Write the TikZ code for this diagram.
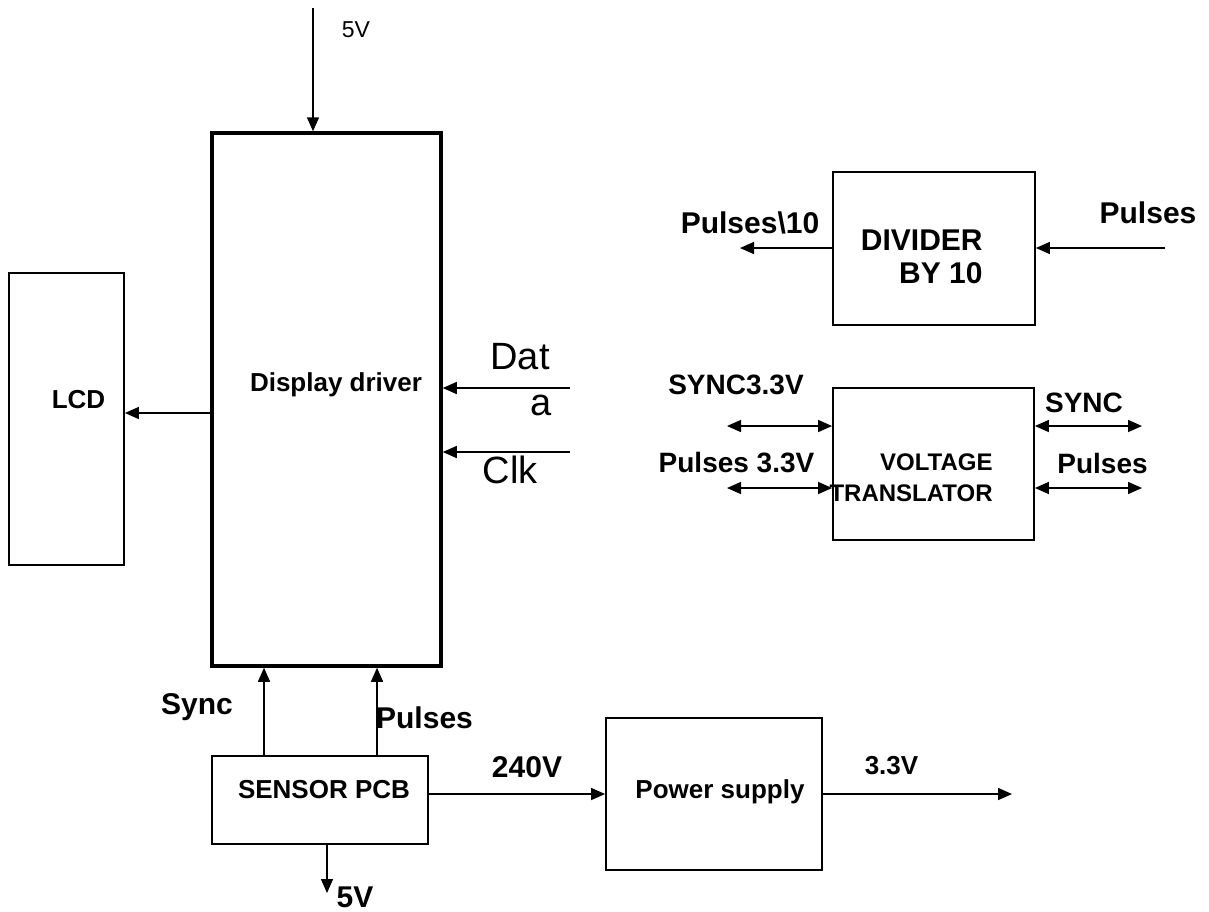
\documentclass[tikz,border=0pt]{standalone}
\usepackage{fontspec}
\setmainfont{Liberation Sans}
\usetikzlibrary{arrows.meta,positioning}

\begin{document}
\begin{tikzpicture}[x=0.5pt, y=-0.5pt,
    box/.style={draw, line width=0.9pt, inner sep=0pt},
    arr/.style={line width=0.75pt, -{Triangle[length=7pt,width=6pt]}},
    biarr/.style={line width=0.75pt, {Triangle[length=7pt,width=6pt]}-{Triangle[length=7pt,width=6pt]}},
    lbl/.style={font=\bfseries\fontsize{15}{16.5}\selectfont, inner sep=0pt},
    mid/.style={font=\bfseries\fontsize{14}{16}\selectfont, inner sep=0pt},
    small/.style={font=\bfseries\fontsize{13}{15}\selectfont, inner sep=0pt},
    big/.style={font=\fontsize{19}{22}\selectfont, inner sep=0pt}]

    \useasboundingbox (0,0) rectangle (1209,911);

    % blocks
    \node[box, minimum width=57.5pt, minimum height=146pt] (lcd) at (66.5,419) {};
    \node[box, line width=1.75pt, minimum width=114.5pt, minimum height=266.5pt] (drv) at (326.5,399.5) {};
    \node[box, minimum width=101pt, minimum height=76.5pt] (div) at (934,248.5) {};
    \node[box, minimum width=100.5pt, minimum height=76pt] (vt) at (933.5,464) {};
    \node[box, minimum width=108pt, minimum height=44pt] (sens) at (320,800) {};
    \node[box, minimum width=108pt, minimum height=76pt] (psu) at (714,794) {};

    % block texts
    \node[small] (lcdlbl) at (78.5,400) {LCD};
    \node[small] (drvlbl) at (336,385) {Display driver};
    \node[lbl, align=right, anchor=east] (divlbl) at (983,256.5) {DIVIDER\\BY 10};
    \node[font=\bfseries\fontsize{12}{15.5}\selectfont, inner sep=0pt, align=right, anchor=east] (vtlbl) at (993,477.5) {VOLTAGE\\TRANSLATOR};
    \node[small] (senslbl) at (324,790) {SENSOR PCB};
    \node[small] (psulbl) at (720,792) {Power supply};

    % free ends
    \coordinate (vin) at (313,8);
    \coordinate (datin) at (570,388);
    \coordinate (clkin) at (570,452);
    \coordinate (sout) at (327,893);
    \coordinate (vout) at (1012,794);
    \coordinate (pin) at (1165,248);
    \coordinate (pout) at (740,248);
    \coordinate (s33) at (727,426);
    \coordinate (p33) at (727,488);
    \coordinate (shi) at (1142,426);
    \coordinate (phi) at (1142,488);

    % connectors
    \draw[arr] (vin) -- (vin |- drv.north);
    \draw[arr] (drv.west |- 0,413) -- (lcd.east |- 0,413);
    \draw[arr] (datin) -- (datin -| drv.east);
    \draw[arr] (clkin) -- (clkin -| drv.east);
    \draw[arr] (sens.north -| 264,0) -- (drv.south -| 264,0);
    \draw[arr] (sens.north -| 377,0) -- (drv.south -| 377,0);
    \draw[arr] (sens.south -| sout) -- (sout);
    \draw[arr] (sens.east |- 0,794) -- (psu.west |- 0,794);
    \draw[arr] (psu.east |- vout) -- (vout);
    \draw[arr] (pin) -- (pin -| div.east);
    \draw[arr] (div.west |- pout) -- (pout);
    \draw[biarr] (s33) -- (s33 -| vt.west);
    \draw[biarr] (p33) -- (p33 -| vt.west);
    \draw[biarr] (vt.east |- shi) -- (shi);
    \draw[biarr] (vt.east |- phi) -- (phi);

    % signal labels
    \node[font=\fontsize{11.5}{13}\selectfont, inner sep=0pt] (v5top) at (356,30) {5V};
    \node[big] (dat) at (520,357) {Dat};
    \node[big] (data) at (541,405) {a};
    \node[big] (clk) at (510,470) {Clk};
    \node[lbl] (divout) at (750,223) {Pulses\textbackslash 10};
    \node[lbl] (divin) at (1148,213) {Pulses};
    \node[mid] (synclo) at (736,385) {SYNC3.3V};
    \node[mid] (pullo) at (736.5,463) {Pulses 3.3V};
    \node[mid] (synchi) at (1084,403) {SYNC};
    \node[mid] (pulhi) at (1102.5,463) {Pulses};
    \node[lbl] (synclbl) at (197,707) {Sync};
    \node[lbl] (pullbl) at (424.5,718) {Pulses};
    \node[lbl] (v5bot) at (355,897) {5V};
    \node[lbl] (v240) at (527,767) {240V};
    \node[small] (v33) at (891.5,766) {3.3V};
\end{tikzpicture}
\end{document}
